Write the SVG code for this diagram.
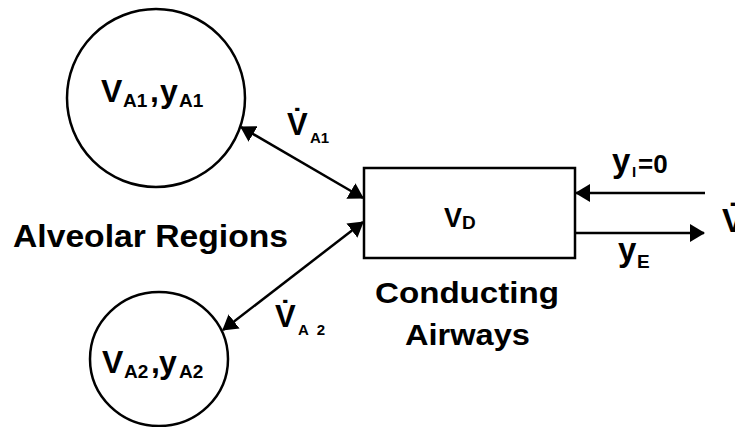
<svg xmlns="http://www.w3.org/2000/svg" width="735" height="427" viewBox="0 0 735 427">
<style>
text{font-family:"Liberation Sans",Arial,sans-serif;font-weight:bold;fill:#000}
.shape{fill:#fff;stroke:#000;stroke-width:2.5}
.conn{stroke:#000;stroke-width:2.5;fill:none}
.big{font-size:32px}
.sub{font-size:19px}
</style>
<defs>
<marker id="ah" viewBox="0 0 15 18" refX="14" refY="9" markerWidth="15" markerHeight="18" markerUnits="userSpaceOnUse" orient="auto-start-reverse">
<path d="M0,0 L15,9 L0,18 z" fill="#000"/>
</marker>
</defs>
<rect width="735" height="427" fill="#fff"/>
<g id="alveolus1">
<circle class="shape" cx="156" cy="98" r="89"/>
<text class="big"><tspan x="101" y="102">V</tspan><tspan class="sub" x="123" y="107">A1</tspan><tspan x="150" y="102">,</tspan><tspan x="160" y="102">y</tspan><tspan class="sub" x="179" y="107">A1</tspan></text>
</g>
<g id="alveolus2">
<ellipse class="shape" cx="159" cy="359" rx="69" ry="67"/>
<text class="big"><tspan x="102" y="373">V</tspan><tspan class="sub" x="124" y="378">A2</tspan><tspan x="151" y="373">,</tspan><tspan x="159" y="373">y</tspan><tspan class="sub" x="179" y="378">A2</tspan></text>
</g>
<g id="airways">
<rect class="shape" x="364" y="168" width="211" height="90"/>
<text><tspan x="444" y="227" font-size="27">V</tspan><tspan x="462" y="229" font-size="19">D</tspan></text>
</g>
<g id="labels">
<text x="13" y="247" font-size="31" textLength="275" lengthAdjust="spacingAndGlyphs">Alveolar Regions</text>
<text x="375" y="303" font-size="30" textLength="184" lengthAdjust="spacingAndGlyphs">Conducting</text>
<text x="405" y="345" font-size="30" textLength="125" lengthAdjust="spacingAndGlyphs">Airways</text>
</g>
<g id="connectors">
<line class="conn" x1="241" y1="127" x2="363" y2="198" marker-start="url(#ah)" marker-end="url(#ah)"/>
<line class="conn" x1="363" y1="222" x2="223" y2="330" marker-start="url(#ah)" marker-end="url(#ah)"/>
<line class="conn" x1="705" y1="193" x2="576" y2="193" marker-end="url(#ah)"/>
<line class="conn" x1="576" y1="233" x2="704" y2="233" marker-end="url(#ah)"/>
</g>
<g id="flow-labels">
<text><tspan x="287" y="135" font-size="31">V̇</tspan><tspan x="310" y="143" font-size="15">A1</tspan></text>
<text><tspan x="275" y="327" font-size="31">V̇</tspan><tspan x="298" y="335" font-size="15" textLength="27" lengthAdjust="spacing">A2</tspan></text>
<text><tspan x="612" y="172" font-size="33">y</tspan><tspan x="632" y="177" font-size="15">I</tspan><tspan x="638" y="173" font-size="26">=0</tspan></text>
<text><tspan x="618" y="261" font-size="33">y</tspan><tspan x="637" y="268" font-size="19">E</tspan></text>
<text x="722" y="232" font-size="33">V̇</text>
</g>
</svg>
